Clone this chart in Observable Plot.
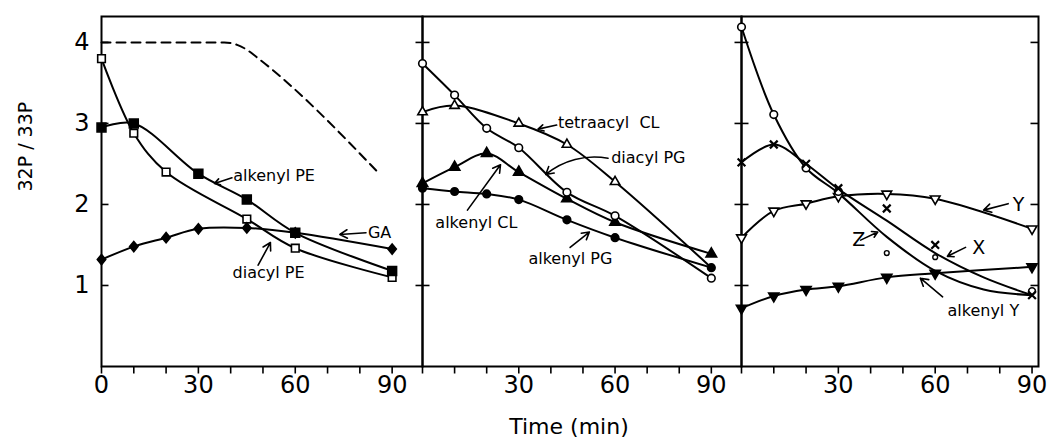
<!DOCTYPE html>
<html>
<head>
<meta charset="utf-8">
<script src="https://cdn.jsdelivr.net/npm/d3@7"></script>
<script src="https://cdn.jsdelivr.net/npm/@observablehq/plot@0.6"></script>
<style>
  html, body { margin: 0; padding: 0; background: #fff; }
  #chart { position: relative; width: 1050px; height: 445px; overflow: hidden; font-family: "DejaVu Sans", sans-serif; }
  #chart svg { position: absolute; top: 0; }
</style>
</head>
<body>
<div id="chart"></div>
<script>
// ---------------- DATA ----------------
const yTicks = [1, 2, 3, 4];
const xMinorTicks = [0, 10, 20, 30, 40, 50, 60, 70, 80, 90];
const xLabels1 = [0, 30, 60, 90];
const xLabels23 = [30, 60, 90];
const yLabel = "32P / 33P";
const xLabel = "Time (min)";

// Panel 1
const diacylPE_t = [0, 10, 20, 45, 60, 90];
const diacylPE   = [3.80, 2.88, 2.40, 1.82, 1.46, 1.10];
const alkenylPE_t = [0, 10, 30, 45, 60, 90];
const alkenylPE   = [2.95, 3.00, 2.38, 2.06, 1.65, 1.18];
const GA_t = [0, 10, 20, 30, 45, 60, 90];
const GA   = [1.32, 1.48, 1.59, 1.70, 1.71, 1.65, 1.45];
const dashed_t = [0, 38, 42, 45, 48, 86];
const dashed   = [4.00, 4.00, 3.97, 3.91, 3.82, 2.38];

// Panel 2
const diacylPG_t = [0, 10, 20, 30, 45, 60, 90];
const diacylPG   = [3.74, 3.35, 2.94, 2.70, 2.15, 1.86, 1.09];
const tetraCL_t = [0, 10, 30, 45, 60, 90];
const tetraCL   = [3.14, 3.22, 3.00, 2.74, 2.28, 1.22];
const alkenylCL_t = [0, 10, 20, 30, 45, 60, 90];
const alkenylCL   = [2.26, 2.46, 2.63, 2.40, 2.07, 1.78, 1.39];
const alkenylPG_t = [0, 10, 20, 30, 45, 60, 90];
const alkenylPG   = [2.20, 2.16, 2.13, 2.06, 1.81, 1.59, 1.22];

// Panel 3
const Z_t = [0, 10, 20, 30, 45, 60, 90];
const Z   = [4.19, 3.11, 2.45, 2.16, 1.40, 1.35, 0.93];
const Zfit_t = [0, 10, 20, 30, 45, 60, 75, 90];
const Zfit   = [4.19, 3.11, 2.45, 2.14, 1.60, 1.18, 0.95, 0.88];
const X_t = [0, 10, 20, 30, 45, 60, 90];
const X   = [2.52, 2.74, 2.50, 2.20, 1.95, 1.50, 0.88];
const Xfit_t = [0, 10, 20, 30, 45, 60, 75, 90];
const Xfit   = [2.52, 2.74, 2.50, 2.19, 1.80, 1.40, 1.10, 0.88];
const Y_t = [0, 10, 20, 30, 45, 60, 90];
const Y   = [1.59, 1.92, 2.01, 2.10, 2.13, 2.07, 1.70];
const alkenylY_t = [0, 10, 20, 30, 45, 60, 90];
const alkenylY   = [0.72, 0.87, 0.95, 0.99, 1.10, 1.15, 1.23];

// Annotations (data coordinates)
const labels1 = [
  {text: "alkenyl PE", x: 40.8, y: 2.35},
  {text: "GA", x: 82.5, y: 1.65},
  {text: "diacyl PE", x: 40.6, y: 1.15}
];
const arrows1 = [
  {x1: 40.4, y1: 2.33, x2: 35.0, y2: 2.26},
  {x1: 81.9, y1: 1.65, x2: 73.8, y2: 1.63},
  {x1: 48.5, y1: 1.25, x2: 52.3, y2: 1.53}
];
const labels2 = [
  {text: "tetraacyl  CL", x: 42.2, y: 3.01},
  {text: "diacyl PG", x: 58.8, y: 2.58},
  {text: "alkenyl CL", x: 4.0, y: 1.77},
  {text: "alkenyl PG", x: 33.0, y: 1.33}
];
const arrows2 = [
  {x1: 41.8, y1: 2.98, x2: 36.0, y2: 2.93},
  {x1: 14.0, y1: 1.93, x2: 24.3, y2: 2.49},
  {x1: 46.0, y1: 1.47, x2: 52.0, y2: 1.66}
];
const arrows2bent = [
  {x1: 57.8, y1: 2.57, x2: 38.4, y2: 2.37}
];
const labels3 = [
  {text: "Y", x: 84.0, y: 1.99},
  {text: "Z", x: 34.3, y: 1.56},
  {text: "X", x: 71.5, y: 1.46},
  {text: "alkenyl Y", x: 63.8, y: 0.69}
];
const arrows3 = [
  {x1: 82.6, y1: 2.01, x2: 75.0, y2: 1.93},
  {x1: 36.9, y1: 1.56, x2: 42.2, y2: 1.66},
  {x1: 69.4, y1: 1.47, x2: 63.8, y2: 1.36},
  {x1: 62.3, y1: 0.86, x2: 55.4, y2: 1.09}
];

// ---------------- HELPERS ----------------
const rows = (t, v) => t.map((x, i) => ({x, y: v[i]}));
const SQ3 = Math.sqrt(3);
const triDown = {draw(ctx, size) {
  const h = Math.sqrt(size / (3 * SQ3));
  ctx.moveTo(0, 2 * h); ctx.lineTo(-SQ3 * h, -h); ctx.lineTo(SQ3 * h, -h); ctx.closePath();
}};
const diamondWide = {draw(ctx, size) {
  const h = Math.sqrt(size) * 0.8, w = h * 0.82;
  ctx.moveTo(0, -h); ctx.lineTo(w, 0); ctx.lineTo(0, h); ctx.lineTo(-w, 0); ctx.closePath();
}};
const seg = (x0, y0, x1, y1) => ({draw(ctx) { ctx.moveTo(x0, y0); ctx.lineTo(x1, y1); }});
const tickIn = seg(0, 0, 7, 0);
const tickCross = seg(-7, 0, 7, 0);
const tickInR = seg(-8, 0, 0, 0);
const tickDown = seg(0, 0, 0, 7);

const LW = 2;
const line = (t, v, opts = {}) => Plot.line(rows(t, v), {x: "x", y: "y", stroke: "black", strokeWidth: LW, curve: "catmull-rom", ...opts});
const dots = (t, v, symbol, filled, r, opts = {}) => Plot.dot(rows(t, v), {
  x: "x", y: "y", symbol, r,
  fill: filled ? "black" : "white", stroke: "black", strokeWidth: 1.6, ...opts
});
const crosses = (t, v, r = 3.6) => Plot.dot(rows(t, v), {x: "x", y: "y", symbol: "times", r, fill: "none", stroke: "black", strokeWidth: 2.2});

function frameMarks(labels, leftTick, rightTick) {
  const m = [
    Plot.frame({stroke: "black", strokeWidth: 2}),
    Plot.dot(xMinorTicks, {x: d => d, frameAnchor: "bottom", symbol: tickDown, fill: "none", stroke: "black", strokeWidth: 1.6}),
    Plot.text(labels, {x: d => d, frameAnchor: "bottom", dy: 26, text: d => String(d), fontSize: 24, fill: "black"})
  ];
  if (leftTick) m.push(Plot.dot(yTicks, {y: d => d, frameAnchor: "left", symbol: leftTick, fill: "none", stroke: "black", strokeWidth: 1.6}));
  if (rightTick) m.push(Plot.dot(yTicks, {y: d => d, frameAnchor: "right", symbol: rightTick, fill: "none", stroke: "black", strokeWidth: 1.6}));
  return m;
}
const annot = (labels, fontSize = 16) => Plot.text(labels, {x: "x", y: "y", text: "text", textAnchor: "start", fontSize, fill: "black"});
const arr = (a, bend = 0) => Plot.arrow(a, {x1: "x1", y1: "y1", x2: "x2", y2: "y2", stroke: "black", strokeWidth: 1.6, headLength: 8, bend});

const container = document.getElementById("chart");
function panel({left, width, mL, mR, xMax, marks}) {
  const svg = Plot.plot({
    width, height: 445,
    marginTop: 16, marginBottom: 79, marginLeft: mL, marginRight: mR,
    x: {domain: [0, xMax], axis: null},
    y: {domain: [0, 4.32], axis: null},
    style: {background: "none", overflow: "visible", fontFamily: "DejaVu Sans, sans-serif", color: "black", maxWidth: "none"},
    marks
  });
  svg.style.position = "absolute";
  svg.style.left = left + "px";
  svg.style.top = "0px";
  container.append(svg);
}

// ---------------- PANEL 1 ----------------
panel({
  left: 0, width: 422, mL: 101, mR: 0, xMax: 99.4,
  marks: [
    ...frameMarks(xLabels1, tickIn, null),
    Plot.text(yTicks, {y: d => d, frameAnchor: "left", dx: -12, textAnchor: "end", text: d => String(d), fontSize: 24, fill: "black"}),
    Plot.text([yLabel], {frameAnchor: "left", dx: -76, rotate: -90, text: d => d, fontSize: 19, fill: "black"}),
    line(dashed_t, dashed, {curve: "monotone-x", strokeDasharray: "9,6"}),
    line(diacylPE_t, diacylPE),
    line(alkenylPE_t, alkenylPE),
    line(GA_t, GA),
    dots(diacylPE_t, diacylPE, "square", false, 4.3),
    dots(alkenylPE_t, alkenylPE, "square", true, 5),
    dots(GA_t, GA, diamondWide, true, 3.6),
    annot(labels1),
    arr(arrows1)
  ]
});

// ---------------- PANEL 2 ----------------
panel({
  left: 422, width: 319, mL: 0, mR: 0, xMax: 99.4,
  marks: [
    ...frameMarks(xLabels23, tickCross, null),
    Plot.text([xLabel], {frameAnchor: "bottom", dx: -13, dy: 67, text: d => d, fontSize: 22, fill: "black"}),
    line(diacylPG_t, diacylPG),
    line(tetraCL_t, tetraCL),
    line(alkenylCL_t, alkenylCL),
    line(alkenylPG_t, alkenylPG),
    dots(tetraCL_t.slice(0, -1), tetraCL.slice(0, -1), "triangle", false, 3.5),
    dots(alkenylCL_t, alkenylCL, "triangle", true, 3.9),
    dots(alkenylPG_t, alkenylPG, "circle", true, 3.8),
    dots(diacylPG_t, diacylPG, "circle", false, 3.8),
    annot(labels2),
    arr(arrows2),
    arr(arrows2bent, -25)
  ]
});

// ---------------- PANEL 3 ----------------
panel({
  left: 741, width: 309, mL: 0, mR: 12, xMax: 92,
  marks: [
    ...frameMarks(xLabels23, tickCross, tickInR),
    line(Zfit_t, Zfit),
    line(Xfit_t, Xfit),
    line(Y_t, Y),
    line(alkenylY_t, alkenylY),
    dots(Y_t, Y, triDown, false, 3.6),
    dots(alkenylY_t, alkenylY, triDown, true, 3.8),
    dots(Z_t.slice(0, 4), Z.slice(0, 4), "circle", false, 3.8),
    dots(Z_t.slice(4, 6), Z.slice(4, 6), "circle", false, 2.4, {strokeWidth: 1.4}),
    dots(Z_t.slice(6), Z.slice(6), "circle", false, 3.4),
    crosses(X_t, X),
    annot(labels3.slice(0, 3), 19),
    annot(labels3.slice(3), 16),
    arr(arrows3)
  ]
});
</script>
</body>
</html>
